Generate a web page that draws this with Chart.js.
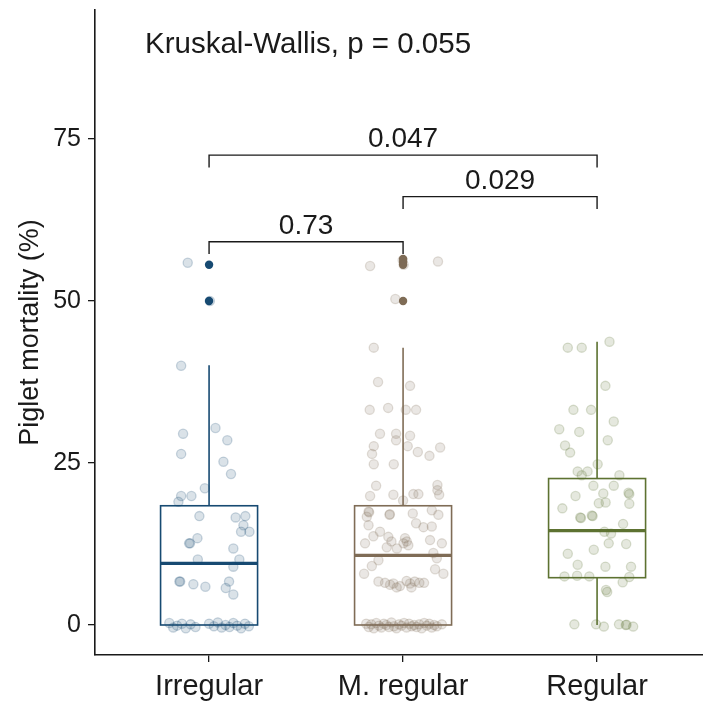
<!DOCTYPE html>
<html lang="en">
<head>
  <meta charset="UTF-8" />
  <title>Piglet mortality by regularity</title>
  <script src="https://cdn.jsdelivr.net/npm/chart.js"></script>
  <style>
    body {
      margin: 0;
      background: #fff;
    }

    .wrap {
      width: 703px;
      height: 704px;
      position: relative;
    }
  </style>
</head>
<body>
  <div class="wrap">
    <canvas id="mortChart"></canvas>
  </div>

  <script>
    const categories = ['Irregular', 'M. regular', 'Regular'];
    const yTicks = [0, 25, 50, 75];

    // box summaries per group (lower whisker, Q1, median, Q3, upper whisker)
    const boxLower = [0, 0, 0];
    const boxQ1 = [0, 0, 7.3];
    const boxMedian = [9.5, 10.75, 14.55];
    const boxQ3 = [18.4, 18.4, 22.6];
    const boxUpper = [40.1, 42.8, 43.7];

    const irregularOutliers = [55.6, 50.0];
    const mRegularOutliers = [55.6, 56.0, 56.5, 50.0];
    const regularOutliers = [];

    // raw observations with their jitter offsets
    const irregularValues = [40.0, 30.4, 29.5, 28.5, 26.4, 25.2, 23.3, 21.1, 19.9, 19.9, 19.0, 16.8, 16.6, 16.8, 15.4, 14.4, 14.4,
      13.4, 12.6, 12.6, 11.8, 10.1, 10.1, 9.0, 6.7, 6.7, 6.3, 5.9, 6.7, 5.7, 4.7, 55.9, 50.0,
      0.3, -0.4, -0.1, 0.2, -0.5, 0.1, -0.3, 0.2, -0.2, 0.4, -0.4, 0.0, -0.3, 0.3, -0.1, -0.5, 0.2, -0.2];
    const irregularJitter = [-0.144, 0.033, -0.134, 0.094, -0.144, 0.074, 0.113, -0.022, -0.144, -0.091, -0.158, -0.050, 0.137, 0.187, 0.177, 0.165, 0.208,
      -0.060, -0.103, -0.098, 0.125, -0.058, 0.156, 0.125, -0.153, -0.149, -0.081, -0.019, 0.103, 0.086, 0.125, -0.110, 0.004,
      -0.205, -0.185, -0.165, -0.14, -0.12, -0.095, -0.07, 0.0, 0.025, 0.045, 0.065, 0.085, 0.105, 0.125, 0.145, 0.165, 0.185, 0.205];

    const mRegularValues = [42.8, 37.5, 36.9, 33.2, 33.5, 33.2, 33.2, 29.5, 29.5, 28.5, 29.2, 27.6, 27.6, 26.4, 26.7, 26.1, 27.4, 24.8, 24.8,
      21.5, 19.9, 20.1, 19.2, 20.2, 20.2, 21.6, 20.8, 20.1,
      17.5, 17.4, 16.7, 17.0, 17.1, 17.2, 17.7, 17.0,
      15.4, 15.7, 15.1, 15.2, 14.4, 13.6, 13.7, 12.9, 12.6,
      13.4, 12.9, 12.3, 12.6, 13.1, 12.6, 12.0, 11.8, 11.1,
      10.0, 10.3, 9.1, 8.6, 7.9, 7.9,
      6.7, 6.5, 6.2, 6.4, 6.0, 6.8, 6.4, 6.7, 6.5, 6.5, 5.8, 5.8,
      55.4, 56.1, 50.3, 55.6, 56.3,
      0.2, -0.3, 0.1, -0.5, 0.3, -0.1, -0.4, 0.2, 0.0, -0.3, 0.4, -0.2, -0.5, 0.1, -0.1, 0.3, -0.4, 0.2, -0.2, 0.0,
      -0.3, 0.1, -0.5, 0.3, -0.1, 0.2, -0.4, 0.0, -0.2, 0.1];
    const mRegularJitter = [-0.151, -0.129, 0.036, -0.172, -0.077, 0.014, 0.067, -0.119, -0.036, -0.036, 0.036, -0.151, 0.024, -0.160, 0.076, 0.136, 0.191, -0.151, -0.048,
      -0.139, -0.170, -0.05, 0.0, 0.053, 0.079, 0.177, 0.177, 0.186,
      -0.178, -0.175, -0.187, -0.07, -0.068, 0.05, 0.148, 0.182,
      -0.178, 0.067, 0.105, 0.148, -0.119, -0.076, -0.153, -0.06, -0.196,
      0.01, 0.019, 0.027, 0.002, 0.139, 0.2, -0.084, -0.032, 0.156,
      -0.127, 0.174, -0.161, 0.165, -0.201, 0.208,
      -0.127, -0.093, -0.067, -0.05, -0.016, 0.018, 0.036, 0.06, 0.084, 0.108, -0.033, 0.043,
      -0.17, 0.18, -0.04, 0.003, -0.002,
      -0.19, -0.177, -0.164, -0.151, -0.138, -0.125, -0.112, -0.099, -0.086, -0.073, -0.06, -0.047, -0.034, -0.021, -0.008,
      0.005, 0.018, 0.031, 0.044, 0.057, 0.07, 0.083, 0.096, 0.109, 0.122, 0.135, 0.148, 0.161, 0.174, 0.2];

    const regularValues = [42.8, 42.8, 43.7, 36.9, 33.2, 33.2, 31.4, 30.2, 29.8, 28.5, 27.7, 26.6, 24.8, 23.7, 23.7, 23.1, 23.1,
      21.5, 21.5, 19.9, 20.3, 20.2, 20.4, 18.7, 18.0, 18.8, 18.9, 16.5, 16.6, 16.8, 16.9, 15.6, 14.4, 14.1, 12.6, 12.5, 11.6, 11.0,
      9.3, 9.0, 9.0, 7.5, 7.6, 7.5, 7.4, 6.6, 5.4, 5.1,
      0.1, 0.1, -0.25, 0.1, 0.0, 0.05, -0.25];
    const regularJitter = [-0.151, -0.079, 0.064, 0.043, -0.122, -0.031, 0.086, -0.195, -0.092, 0.055, -0.165, -0.139, 0.003, -0.100, -0.049, -0.079, 0.115,
      -0.019, 0.086, -0.111, 0.032, 0.166, 0.162, 0.166, -0.179, 0.009, 0.044, -0.083, -0.087, -0.023, -0.027, 0.134, 0.038, 0.072, 0.06, 0.15, -0.017, -0.151,
      -0.1, 0.043, 0.175, -0.168, -0.103, -0.04, 0.166, 0.132, 0.046, 0.052,
      -0.117, -0.005, 0.035, 0.113, 0.148, 0.152, 0.186];

    // pairwise comparisons (groups are 1-based)
    const pairFrom = [1, 2, 1];
    const pairTo = [2, 3, 3];
    const pairLabels = ['0.73', '0.029', '0.047'];
    const pairY = [59.15, 66.1, 72.5];

    const kwLabel = 'Kruskal-Wallis, p = 0.055';

    const colors = ['#174a72', '#7f6c56', '#5d7231'];
    const fontFamily = '"Liberation Sans", Arial, sans-serif';

    function hexA(hex, a) {
      const n = parseInt(hex.slice(1), 16);
      return `rgba(${n >> 16}, ${(n >> 8) & 255}, ${n & 255}, ${a})`;
    }

    function jitterPoints(group, values, jitter) {
      return values.map((v, i) => ({ x: group + jitter[i], y: v }));
    }

    const boxesAndBrackets = {
      id: 'boxesAndBrackets',
      beforeDatasetsDraw(chart) {
        const { ctx, scales: { x, y } } = chart;
        const halfW = 0.25;
        ctx.save();
        categories.forEach((c, i) => {
          const g = i + 1;
          const left = x.getPixelForValue(g - halfW);
          const right = x.getPixelForValue(g + halfW);
          const mid = x.getPixelForValue(g);
          ctx.strokeStyle = colors[i];
          ctx.lineWidth = 1.6;
          // whiskers
          ctx.beginPath();
          ctx.moveTo(mid, y.getPixelForValue(boxQ3[i]));
          ctx.lineTo(mid, y.getPixelForValue(boxUpper[i]));
          ctx.moveTo(mid, y.getPixelForValue(boxQ1[i]));
          ctx.lineTo(mid, y.getPixelForValue(boxLower[i]));
          ctx.stroke();
          // box
          const top = y.getPixelForValue(boxQ3[i]);
          const bottom = y.getPixelForValue(boxQ1[i]);
          ctx.strokeRect(left, top, right - left, bottom - top);
          // median
          ctx.lineWidth = 3.2;
          ctx.beginPath();
          const m = y.getPixelForValue(boxMedian[i]);
          ctx.moveTo(left, m);
          ctx.lineTo(right, m);
          ctx.stroke();
        });
        ctx.restore();
      },
      afterDatasetsDraw(chart) {
        const { ctx, scales: { x, y } } = chart;
        ctx.save();
        ctx.strokeStyle = '#1a1a1a';
        ctx.lineWidth = 1.4;
        ctx.fillStyle = '#1a1a1a';
        ctx.font = `28px ${fontFamily}`;
        ctx.textAlign = 'center';
        ctx.textBaseline = 'alphabetic';
        pairLabels.forEach((label, i) => {
          const x1 = x.getPixelForValue(pairFrom[i]);
          const x2 = x.getPixelForValue(pairTo[i]);
          const yy = y.getPixelForValue(pairY[i]);
          const tip = y.getPixelForValue(pairY[i] - 1.9);
          ctx.beginPath();
          ctx.moveTo(x1, tip);
          ctx.lineTo(x1, yy);
          ctx.lineTo(x2, yy);
          ctx.lineTo(x2, tip);
          ctx.stroke();
          ctx.fillText(label, (x1 + x2) / 2, yy - 8);
        });
        ctx.textAlign = 'left';
        ctx.font = `29.5px ${fontFamily}`;
        ctx.fillText(kwLabel, x.getPixelForValue(0.67), y.getPixelForValue(88.3));
        ctx.restore();
      }
    };

    const datasets = [];
    const jitterSets = [
      [irregularValues, irregularJitter],
      [mRegularValues, mRegularJitter],
      [regularValues, regularJitter]
    ];
    jitterSets.forEach(([vals, jit], i) => {
      datasets.push({
        label: categories[i],
        data: jitterPoints(i + 1, vals, jit),
        backgroundColor: hexA(colors[i], 0.16),
        borderColor: hexA(colors[i], 0.22),
        borderWidth: 1.3,
        pointRadius: 4.6,
        pointHoverRadius: 4.6
      });
    });
    [irregularOutliers, mRegularOutliers, regularOutliers].forEach((vals, i) => {
      datasets.push({
        label: categories[i] + ' outliers',
        data: vals.map(v => ({ x: i + 1, y: v })),
        backgroundColor: colors[i],
        borderColor: colors[i],
        borderWidth: 0,
        pointRadius: 4.2,
        pointHoverRadius: 4.2
      });
    });

    new Chart(document.getElementById('mortChart'), {
      type: 'scatter',
      data: { datasets },
      options: {
        responsive: true,
        maintainAspectRatio: false,
        animation: false,
        layout: { autoPadding: false, padding: { top: 10, right: 0, left: 0, bottom: 0 } },
        plugins: {
          legend: { display: false },
          tooltip: { enabled: false }
        },
        scales: {
          x: {
            type: 'linear',
            min: 0.412,
            max: 3.546,
            afterBuildTicks: axis => { axis.ticks = categories.map((c, i) => ({ value: i + 1 })); },
            afterFit: axis => {
              axis.height = 49;
              axis.paddingLeft = 0;
              axis.paddingRight = 0;
            },
            ticks: {
              color: '#1a1a1a',
              font: { family: fontFamily, size: 29 },
              padding: 8,
              autoSkip: false,
              maxRotation: 0,
              callback: v => categories[v - 1]
            },
            grid: { drawOnChartArea: false, drawTicks: true, tickLength: 7, color: '#1a1a1a', lineWidth: 1.3 },
            border: { display: true, color: '#1a1a1a', width: 1.6 }
          },
          y: {
            min: -4.63,
            max: 94.9,
            afterBuildTicks: axis => { axis.ticks = yTicks.map(v => ({ value: v })); },
            afterFit: axis => {
              axis.width = 95;
              axis.paddingTop = 0;
              axis.paddingBottom = 0;
            },
            ticks: {
              color: '#1a1a1a',
              font: { family: fontFamily, size: 25 },
              padding: 7
            },
            title: {
              display: true,
              text: 'Piglet mortality (%)',
              color: '#1a1a1a',
              font: { family: fontFamily, size: 27 },
              padding: { top: 14, bottom: 4 }
            },
            grid: { drawOnChartArea: false, drawTicks: true, tickLength: 7, color: '#1a1a1a', lineWidth: 1.3 },
            border: { display: true, color: '#1a1a1a', width: 1.6 }
          }
        }
      },
      plugins: [boxesAndBrackets]
    });
  </script>
</body>
</html>
